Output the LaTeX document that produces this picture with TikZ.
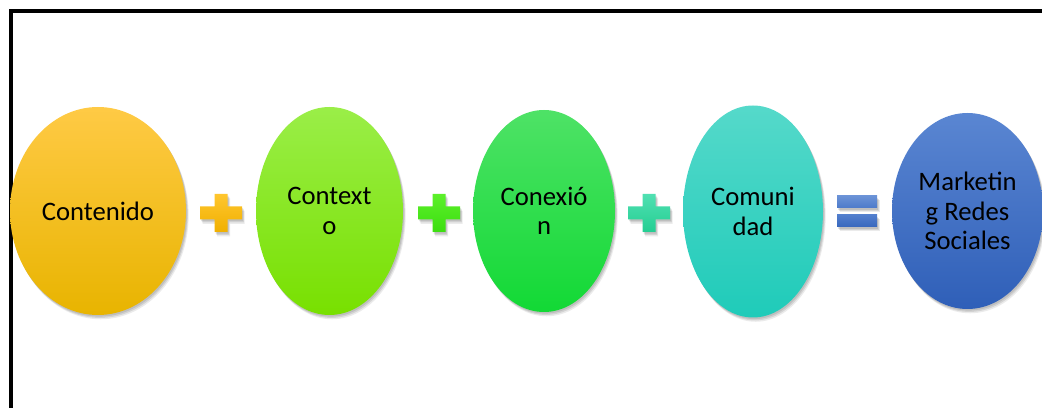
\documentclass[tikz,border=0pt]{standalone}
\usepackage{fontspec}
\setmainfont{Carlito}
\usetikzlibrary{shapes.geometric, shadows}
\definecolor{goldtop}{HTML}{FFCA45}
\definecolor{goldbot}{HTML}{E8B400}
\definecolor{limetop}{HTML}{9AEE48}
\definecolor{limebot}{HTML}{78E000}
\definecolor{greentop}{HTML}{4EE266}
\definecolor{greenbot}{HTML}{12D935}
\definecolor{tealtop}{HTML}{55D9CA}
\definecolor{tealbot}{HTML}{1FCBB9}
\definecolor{bluetop}{HTML}{5A86D2}
\definecolor{bluebot}{HTML}{2F5FB8}

\tikzset{
  softshadow/.style={
    general shadow={fill=black, opacity=.10, shadow xshift=0.8pt, shadow yshift=-1.2pt},
    general shadow={fill=black, opacity=.10, shadow xshift=1.4pt, shadow yshift=-2.2pt},
    general shadow={fill=black, opacity=.08, shadow xshift=2pt, shadow yshift=-3.2pt}},
  bubble/.style={ellipse, inner sep=0pt, align=center, text=black,
    font=\fontsize{20}{22}\selectfont, softshadow},
  signbar/.style={softshadow}
}

\begin{document}
\begin{tikzpicture}[x=0.75pt, y=0.75pt]
  \useasboundingbox (0,0) rectangle (1042,407);
  \clip (0,0) rectangle (1042,407);

  % frame
  \draw[line width=3pt] (10.5,-20) rectangle (1070,396);

  % the five terms
  \foreach \nm/\x/\y/\rx/\ry/\ctop/\cbot/\txt in {
    contenido/98/196/88/104/goldtop/goldbot/{Contenido},
    contexto/329.5/196/73.5/104/limetop/limebot/{Context\\o},
    conexion/544/196/71/101/greentop/greenbot/{Conexió\\n},
    comunidad/753/195.5/70/106/tealtop/tealbot/{Comuni\\dad},
    marketing/967.5/196/75.5/98/bluetop/bluebot/{Marketin\\g Redes\\Sociales}%
  }{
    \node[bubble, minimum width=1.5pt*\rx, minimum height=1.5pt*\ry,
          top color=\ctop, bottom color=\cbot] (\nm) at (\x,\y) {\txt};
  }

  % plus signs
  \foreach \px/\ctop/\cbot in {221/FFC62E/F0B000, 439/5CF02A/3CDE10, 649/50E0B2/24CE92}{
    \definecolor{signtop}{HTML}{\ctop}
    \definecolor{signbot}{HTML}{\cbot}
    \path[signbar, top color=signtop, bottom color=signbot]
      ({\px-21},187.5) -- ++(14.5,0) -- ++(0,-12.5) -- ++(13,0) -- ++(0,12.5)
      -- ++(14.5,0) -- ++(0,13) -- ++(-14.5,0) -- ++(0,12.5) -- ++(-13,0)
      -- ++(0,-12.5) -- ++(-14.5,0) -- cycle;
  }

  % equals sign
  \path[signbar, top color=bluetop!90!white, bottom color=bluetop!70!bluebot]
    (837,199) rectangle (877,211);
  \path[signbar, top color=bluetop!80!bluebot, bottom color=bluebot!80!bluetop]
    (837,180) rectangle (877,192);
\end{tikzpicture}
\end{document}
